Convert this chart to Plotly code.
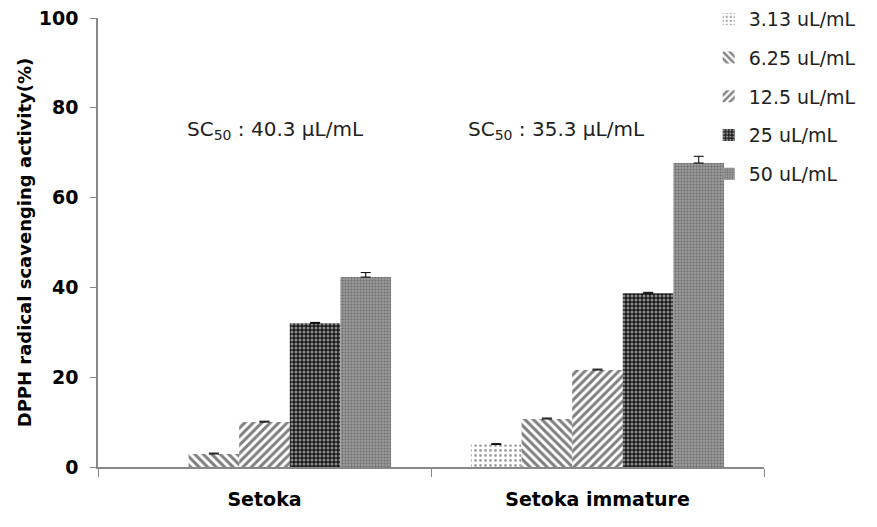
import plotly.graph_objects as go

categories = ["Setoka", "Setoka immature"]
series_names = ["3.13 uL/mL", "6.25 uL/mL", "12.5 uL/mL", "25 uL/mL", "50 uL/mL"]
values_3_13 = [None, 5.0]
values_6_25 = [2.9, 10.7]
values_12_5 = [10.0, 21.6]
values_25 = [32.0, 38.7]
values_50 = [42.3, 67.7]
err_3_13 = [0, 0.2]
err_6_25 = [0.2, 0.2]
err_12_5 = [0.2, 0.2]
err_25 = [0.2, 0.2]
err_50 = [1.0, 1.5]
sc50_labels = ["SC<sub>50</sub> : 40.3 μL/mL", "SC<sub>50</sub> : 35.3 μL/mL"]
sc50_xpos = [0.266, 0.688]
y_ticks = [0, 20, 40, 60, 80, 100]

all_values = [values_3_13, values_6_25, values_12_5, values_25, values_50]
all_err = [err_3_13, err_6_25, err_12_5, err_25, err_50]
patterns = [
    dict(shape=".", fgcolor="#444444", bgcolor="white", size=5, solidity=0.25),
    dict(shape="\\", fgcolor="black", bgcolor="white", size=6, solidity=0.5),
    dict(shape="/", fgcolor="black", bgcolor="white", size=6, solidity=0.5),
    dict(shape=".", fgcolor="white", bgcolor="#1a1a1a", size=4, solidity=0.45),
    dict(shape=".", fgcolor="#404040", bgcolor="#999999", size=3, solidity=0.35),
]

fig = go.Figure()
for i, name in enumerate(series_names):
    fig.add_trace(go.Bar(
        x=categories, y=all_values[i], name=name, legendgroup=name,
        marker=dict(color="white", pattern=patterns[i], line=dict(width=0)),
        error_y=dict(type="data", array=all_err[i], arrayminus=[0, 0], symmetric=False,
                     color="black", thickness=1, width=5),
    ))

for xp, txt in zip(sc50_xpos, sc50_labels):
    fig.add_annotation(x=xp, y=75, text=txt, showarrow=False, xanchor="center",
                       font=dict(family="DejaVu Sans", size=20, color="#222222"),
                       xref="paper", yref="y")

fig.update_layout(
    width=877, height=527,
    margin=dict(l=98, r=113, t=18, b=60, autoexpand=False),
    plot_bgcolor="white", paper_bgcolor="white",
    barmode="group", bargap=0.24, bargroupgap=0,
    showlegend=True,
    legend=dict(x=0.917, y=1.04, xanchor="left", yanchor="top", itemwidth=30,
                font=dict(family="DejaVu Sans", size=19, color="#222222"),
                bgcolor="rgba(0,0,0,0)", tracegroupgap=11, traceorder="grouped"),
    xaxis=dict(showline=True, linecolor="#888888", linewidth=1.5, ticks="outside",
               tickson="boundaries", ticklen=8, tickcolor="#888888", automargin=False,
               ticklabelstandoff=14,
               tickfont=dict(family="DejaVu Sans", size=19, color="black", weight="bold")),
    yaxis=dict(range=[0, 100], tickvals=y_ticks, showline=True, linecolor="#888888",
               linewidth=1.5, ticks="outside", ticklen=6, tickcolor="#888888",
               showgrid=False, zeroline=False, automargin=False, ticklabelstandoff=8,
               tickfont=dict(family="DejaVu Sans", size=19, color="black", weight="bold"),
               title=dict(text="DPPH radical scavenging activity(%)", standoff=2,
                          font=dict(family="DejaVu Sans", size=18, color="black", weight="bold"))),
)

fig.write_html("out.html", config={"displayModeBar": False},
               post_script="document.body.style.margin='0';")
